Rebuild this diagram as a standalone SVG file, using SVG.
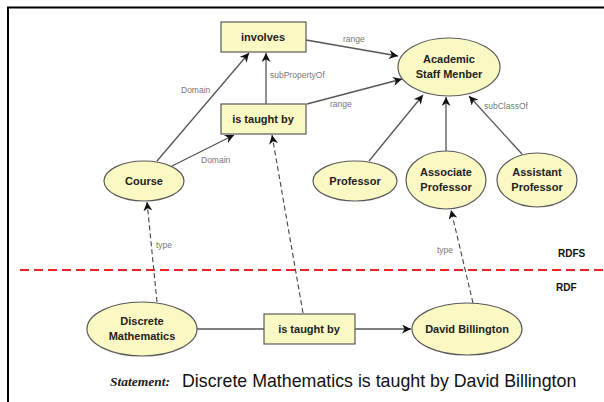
<svg xmlns="http://www.w3.org/2000/svg" width="604" height="402" viewBox="0 0 604 402">
<defs>
<style>
.node{fill:#fbf9c3;stroke:#5a5a5a;stroke-width:1.2}
.lbl{font-family:"Liberation Sans",Arial,sans-serif;font-size:11px;font-weight:bold;fill:#222;text-anchor:middle}
.el{font-family:"Liberation Sans",Arial,sans-serif;font-size:8.5px;fill:#777}
.edge{stroke:#555;stroke-width:1.3;fill:none}
.dash{stroke:#444;stroke-width:1.1;fill:none;stroke-dasharray:5,3}
.tag{font-family:"Liberation Sans",Arial,sans-serif;font-size:10px;font-weight:bold;fill:#111}
</style>
<marker id="ah" viewBox="0 0 10 10" refX="10" refY="5" markerWidth="9" markerHeight="9" markerUnits="userSpaceOnUse" orient="auto">
<path d="M0,0 L10,5 L0,10 L3,5 z" fill="#111"/>
</marker>
</defs>
<rect width="604" height="402" fill="#fff"/>
<path d="M8,402 V7.5 H604" fill="none" stroke="#000" stroke-width="2"/>

<g id="connectors">
<line class="edge" x1="306" y1="40" x2="398" y2="56" marker-end="url(#ah)"/>
<text class="el" x="343" y="42">range</text>
<line class="edge" x1="307" y1="104" x2="402" y2="79" marker-end="url(#ah)"/>
<text class="el" x="330" y="107">range</text>
<line class="edge" x1="266" y1="104" x2="266" y2="53" marker-end="url(#ah)"/>
<text class="el" x="270" y="78">subPropertyOf</text>
<line class="edge" x1="157" y1="161" x2="249" y2="53" marker-end="url(#ah)"/>
<text class="el" x="181" y="93">Domain</text>
<line class="edge" x1="172" y1="166" x2="234" y2="135" marker-end="url(#ah)"/>
<text class="el" x="201" y="163">Domain</text>
<line class="edge" x1="369" y1="161" x2="423" y2="95" marker-end="url(#ah)"/>
<line class="edge" x1="446" y1="151" x2="446" y2="97" marker-end="url(#ah)"/>
<line class="edge" x1="522" y1="154" x2="469" y2="96" marker-end="url(#ah)"/>
<text class="el" x="484" y="109">subClassOf</text>
<line class="dash" x1="157" y1="302" x2="147" y2="202" marker-end="url(#ah)"/>
<text class="el" x="156" y="248">type</text>
<line class="dash" x1="303" y1="313" x2="272" y2="135" marker-end="url(#ah)"/>
<line class="dash" x1="473" y1="303" x2="451" y2="210" marker-end="url(#ah)"/>
<text class="el" x="437" y="253">type</text>
<line class="edge" x1="197" y1="329" x2="264" y2="329"/>
<line class="edge" x1="355" y1="329" x2="411" y2="329" marker-end="url(#ah)"/>
</g>

<line x1="20" y1="270" x2="604" y2="270" stroke="#e8262a" stroke-width="2.2" stroke-dasharray="9,5"/>
<text class="tag" x="558" y="257">RDFS</text>
<text class="tag" x="556" y="291">RDF</text>

<g id="involves"><rect class="node" x="221" y="22" width="85" height="30"/><text class="lbl" x="263" y="41">involves</text></g>
<g id="academic"><ellipse class="node" cx="449" cy="67" rx="51" ry="29"/><text class="lbl" x="449" y="63">Academic</text><text class="lbl" x="449" y="78">Staff Menber</text></g>
<g id="istaughtby"><rect class="node" x="221" y="104" width="85" height="30"/><text class="lbl" x="263" y="123">is taught by</text></g>
<g id="course"><ellipse class="node" cx="144" cy="181" rx="40" ry="20"/><text class="lbl" x="144" y="185">Course</text></g>
<g id="professor"><ellipse class="node" cx="355" cy="181" rx="42" ry="20"/><text class="lbl" x="355" y="185">Professor</text></g>
<g id="associate"><ellipse class="node" cx="446" cy="180" rx="40" ry="29"/><text class="lbl" x="446" y="176">Associate</text><text class="lbl" x="446" y="191">Professor</text></g>
<g id="assistant"><ellipse class="node" cx="537" cy="180" rx="40" ry="27"/><text class="lbl" x="537" y="176">Assistant</text><text class="lbl" x="537" y="191">Professor</text></g>
<g id="discrete"><ellipse class="node" cx="142" cy="329" rx="55" ry="27"/><text class="lbl" x="142" y="325">Discrete</text><text class="lbl" x="142" y="340">Mathematics</text></g>
<g id="istaughtby2"><rect class="node" x="264" y="314" width="91" height="30"/><text class="lbl" x="309" y="333">is taught by</text></g>
<g id="david"><ellipse class="node" cx="467" cy="329" rx="55" ry="26"/><text class="lbl" x="467" y="333">David Billington</text></g>

<text x="110" y="386" font-family="'Liberation Serif',serif" font-size="13.5" font-style="italic" font-weight="bold" fill="#222">Statement:</text>
<text x="182" y="387" font-family="'Liberation Sans',Arial,sans-serif" font-size="17.8" fill="#111">Discrete Mathematics is taught by David Billington</text>
</svg>
